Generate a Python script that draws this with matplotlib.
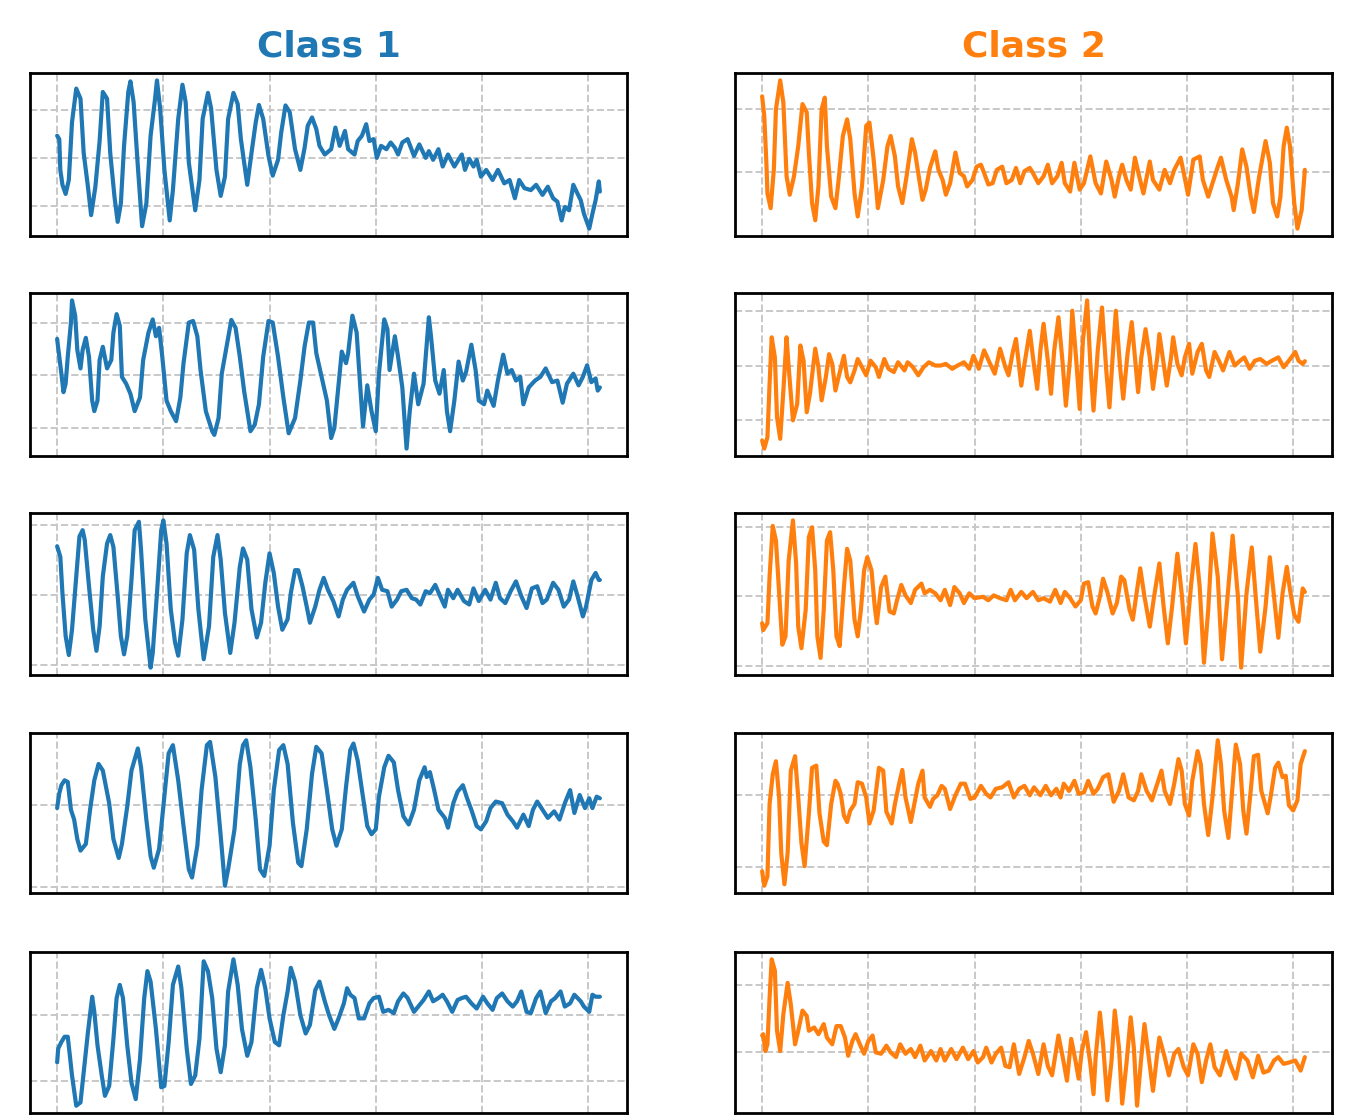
import matplotlib
matplotlib.use("Agg")
import matplotlib.pyplot as plt
from matplotlib.ticker import MultipleLocator

# ---------------- data ----------------
titles = ["Class 1", "Class 2"]
colors = ["#1f77b4", "#ff7f0e"]
x_ticks = [0, 100, 200, 300, 400, 500]

c1_r1_x = [0,2,3,5,8,11,14,18,22,25, 29,32,36,40,43,47,50,54,57,60, 63,67,69,72,76,80,84,88,92,94, 97,101,106,109,114,118,121,124,130,134, 137,142,145,150,154,158,161,166,170,173, 179,183,187,190,194,199,203,208,211,215, 219,224,229,233,236,240,244,247,252,258, 262,266,271,274,280,283,287,291,294,298, 301,305,310,314,318,321,325,330,336,341, 347,350,354,359,363,368,374,381,384,388, 392,395,399,404,410,415,421,426,431,435, 440,446,451,457,462,467,471,475,478,482, 486,489,493,496,501,504,507,510,511]
c1_r1_y = [0.46,0.39,-0.25,-0.56,-0.75,-0.46,0.74,1.44,1.23,0.10, -0.60,-1.19,-0.60,0.35,1.37,1.23,0.10,-0.81,-1.33,-0.95, 0.25,1.37,1.59,1.16,-0.18,-1.42,-0.95,0.46,1.19,1.61, 1.02,-0.25,-1.30,-0.67,0.81,1.52,1.16,-0.10,-1.09,-0.46, 0.81,1.35,1.02,-0.25,-0.79,-0.39,0.81,1.35,1.12,0.39, -0.56,0.10,0.74,1.10,0.81,0.04,-0.37,-0.04,0.53,1.09, 0.95,0.18,-0.25,0.21,0.67,0.84,0.60,0.25,0.07,0.18, 0.63,0.25,0.56,0.18,0.07,0.35,0.46,0.70,0.35,0.39, 0.00,0.25,0.18,0.32,0.21,0.07,0.32,0.39,0.04,0.28, 0.00,0.14,-0.04,0.18,-0.18,0.07,-0.18,0.07,-0.25,-0.02, -0.18,-0.04,-0.39,-0.25,-0.46,-0.25,-0.53,-0.46,-0.84,-0.46, -0.63,-0.67,-0.56,-0.77,-0.60,-0.84,-0.91,-1.30,-1.02,-1.09, -0.56,-0.70,-0.88,-1.16,-1.47,-1.16,-0.88,-0.49,-0.70]

c1_r2_x = [0,1,4,6,8,10,13,14,17,19, 22,24,27,30,33,35,38,40,43,47, 51,53,56,59,61,65,69,73,78,81, 86,90,93,96,99,103,107,112,116,119, 124,128,132,135,140,146,148,152,155,159, 164,168,172,176,182,186,190,194,199,203, 208,213,218,224,229,233,237,241,244,249, 254,258,261,265,268,272,274,278,282,285, 288,292,296,300,303,308,311,313,318,321, 325,329,332,336,340,345,350,352,356,360, 364,367,370,374,378,382,385,390,394,397, 402,405,411,415,420,424,428,432,436,439, 444,450,455,460,466,471,476,480,486,491, 495,499,503,507,509,511]
c1_r2_y = [0.69,0.52,0.03,-0.32,-0.16,0.35,1.00,1.42,1.13,0.48, 0.13,0.48,0.71,0.35,-0.48,-0.68,-0.48,0.29,0.54,0.13, 0.29,0.81,1.16,0.94,-0.03,-0.16,-0.35,-0.68,-0.42,0.29, 0.81,1.06,0.74,0.90,0.35,-0.48,-0.68,-0.87,-0.42,0.23, 1.00,1.03,0.74,0.10,-0.68,-1.06,-1.13,-0.81,0.03,0.48, 1.05,0.90,0.35,-0.29,-1.06,-0.94,-0.55,0.35,1.03,1.00, 0.35,-0.42,-1.10,-0.81,-0.10,0.55,1.00,1.00,0.42,-0.03, -0.48,-1.19,-1.00,-0.16,0.45,0.23,0.42,1.13,0.81,-0.10, -0.97,-0.19,-0.68,-1.06,0.03,1.06,0.87,0.10,0.74,0.35, -0.23,-1.39,-0.68,0.03,-0.55,-0.16,1.10,0.74,-0.10,-0.35, 0.10,-0.68,-1.06,-0.48,0.26,-0.10,0.06,0.58,0.10,-0.48, -0.55,-0.29,-0.58,-0.10,0.39,0.03,0.10,-0.10,-0.03,-0.55, -0.23,-0.10,-0.03,0.13,-0.13,-0.10,-0.52,-0.16,0.03,-0.19, -0.03,0.19,-0.13,-0.06,-0.29,-0.23]

c1_r3_x = [0,3,5,8,11,14,18,21,24,26, 30,34,37,40,43,47,50,53,57,60, 63,66,70,73,77,79,83,88,90,94, 98,100,103,107,111,114,118,122,125,129, 133,138,143,147,151,154,158,163,167,172, 175,179,183,188,192,196,200,204,208,212, 217,220,224,227,231,235,238,243,247,251, 255,260,265,269,273,279,283,289,294,298, 302,306,311,315,320,324,329,334,338,342, 347,351,356,360,365,368,373,377,383,388, 392,397,403,408,413,417,422,427,432,437, 442,447,452,457,461,467,472,477,482,486, 490,495,498,503,507,510,511]
c1_r3_y = [0.69,0.54,0.02,-0.59,-0.86,-0.50,0.26,0.83,0.92,0.78, 0.12,-0.50,-0.80,-0.45,0.26,0.73,0.85,0.68,-0.02,-0.59, -0.85,-0.59,0.21,0.92,1.04,0.64,-0.35,-1.04,-0.83,0.02, 0.92,1.06,0.73,-0.21,-0.68,-0.87,-0.35,0.59,0.85,0.64, -0.21,-0.92,-0.45,0.54,0.85,0.50,-0.26,-0.83,-0.40,0.40, 0.66,0.50,-0.21,-0.61,-0.40,0.17,0.59,0.31,-0.17,-0.50, -0.35,0.02,0.35,0.35,0.12,-0.17,-0.40,-0.17,0.07,0.24, 0.07,-0.09,-0.31,-0.07,0.07,0.17,-0.02,-0.24,-0.07,0.00, 0.24,0.07,0.05,-0.17,-0.07,0.05,0.07,-0.05,-0.07,-0.14, 0.05,0.02,0.14,0.00,-0.17,0.07,-0.05,0.07,-0.09,-0.14, 0.09,-0.09,0.07,-0.07,0.17,-0.05,-0.12,0.05,0.19,-0.02, -0.19,0.09,0.12,-0.12,-0.07,0.17,0.07,-0.17,-0.07,0.19, -0.02,-0.31,-0.17,0.21,0.31,0.21,0.21]

c1_r4_x = [0,2,4,7,10,13,16,19,22,27, 31,35,39,43,49,53,58,61,66,70, 76,79,84,88,91,96,100,105,109,114, 119,124,127,132,136,141,144,149,154,158, 161,167,172,175,178,182,187,191,195,200, 204,209,213,217,222,227,230,235,240,244, 249,254,259,263,268,272,276,279,283,287, 292,296,300,303,308,312,317,321,326,331, 336,341,346,348,351,355,359,365,368,373, 377,382,386,390,395,399,404,408,413,419, 424,429,433,439,444,448,452,457,462,468, 473,478,483,487,492,497,501,504,508,511]
c1_r4_y = [-0.04,0.14,0.24,0.30,0.28,-0.06,-0.18,-0.42,-0.56,-0.48, -0.06,0.30,0.50,0.42,0.02,-0.42,-0.65,-0.48,-0.02,0.42, 0.69,0.46,-0.18,-0.63,-0.77,-0.54,-0.02,0.63,0.73,0.30, -0.26,-0.79,-0.89,-0.50,0.18,0.73,0.77,0.34,-0.38,-0.99, -0.79,-0.30,0.50,0.73,0.79,0.46,-0.18,-0.79,-0.87,-0.50, 0.18,0.67,0.73,0.50,-0.22,-0.71,-0.75,-0.30,0.38,0.71, 0.63,0.18,-0.30,-0.50,-0.30,0.22,0.67,0.75,0.54,0.18, -0.26,-0.36,-0.30,0.10,0.46,0.60,0.52,0.18,-0.14,-0.24, -0.06,0.30,0.46,0.34,0.40,0.18,-0.06,-0.16,-0.28,0.02, 0.16,0.24,0.08,-0.06,-0.26,-0.30,-0.20,-0.04,0.04,0.02, -0.12,-0.20,-0.28,-0.12,-0.26,-0.06,0.04,-0.06,-0.16,-0.08, -0.18,0.02,0.18,-0.10,0.12,-0.04,0.08,-0.04,0.10,0.08]

c1_r5_x = [0,1,4,7,10,12,14,18,22,25, 29,33,35,38,42,45,49,53,56,59, 62,66,70,74,78,82,85,88,93,98, 101,105,109,114,117,122,126,130,134,138, 142,146,150,154,158,161,166,170,174,179, 183,188,192,196,200,205,209,213,217,220, 224,229,234,238,243,247,252,256,261,265, 270,273,276,280,284,289,294,298,303,307, 312,317,321,326,330,336,340,345,350,354, 359,363,367,372,377,381,385,390,395,401, 405,410,414,419,424,429,433,437,442,446, 451,455,460,465,469,474,478,483,487,493, 496,501,504,507,511]
c1_r5_y = [-0.72,-0.51,-0.41,-0.33,-0.33,-0.62,-0.92,-1.38,-1.33,-0.87, -0.26,0.28,0.05,-0.46,-0.92,-1.23,-1.08,-0.36,0.26,0.46, 0.26,-0.46,-1.03,-1.28,-0.67,0.26,0.67,0.51,-0.21,-1.10, -1.08,-0.41,0.46,0.74,0.41,-0.51,-1.05,-0.92,-0.36,0.82, 0.67,0.26,-0.51,-0.87,-0.46,0.36,0.85,0.46,-0.21,-0.62, -0.41,0.41,0.69,0.41,-0.05,-0.41,-0.46,0.00,0.36,0.72, 0.51,0.00,-0.28,-0.15,0.38,0.51,0.21,0.00,-0.21,-0.05, 0.18,0.41,0.31,0.26,-0.05,-0.05,0.18,0.26,0.28,0.05, 0.08,0.03,0.21,0.33,0.26,0.05,0.13,0.23,0.36,0.21, 0.26,0.31,0.21,0.05,0.23,0.26,0.28,0.18,0.10,0.28, 0.18,0.08,0.26,0.33,0.21,0.13,0.21,0.36,0.05,0.03, 0.26,0.36,0.03,0.21,0.26,0.36,0.13,0.18,0.31,0.21, 0.13,0.05,0.31,0.28,0.28]

c2_r1_x = [0,2,4,5,8,11,13,17,20,23, 26,30,34,38,42,44,47,50,53,56, 59,61,65,69,72,76,80,83,87,90, 94,98,101,105,109,114,118,121,125,128, 132,136,141,144,148,151,154,158,163,166, 170,173,177,182,186,190,193,198,202,206, 209,213,217,221,226,230,235,239,243,247, 252,255,260,265,269,273,278,282,285,290, 294,299,303,309,314,319,324,329,332,336, 339,343,347,351,355,359,365,368,374,379, 384,388,394,397,401,406,412,415,420,424, 429,432,437,442,444,448,452,456,460,463, 468,474,478,481,485,488,491,494,497,501, 504,508,511]
c2_r1_y = [1.19,0.88,0.15,-0.33,-0.56,0.04,0.99,1.44,1.09,-0.06, -0.35,-0.06,0.41,1.07,0.94,0.31,-0.48,-0.75,-0.22,0.99, 1.17,0.41,-0.38,-0.56,-0.12,0.57,0.83,0.52,-0.33,-0.69, -0.22,0.73,0.78,0.20,-0.56,-0.12,0.41,0.57,0.25,-0.22, -0.48,-0.06,0.52,0.31,-0.12,-0.43,-0.27,0.07,0.33,0.04, -0.12,-0.35,-0.17,0.31,-0.01,-0.06,-0.22,-0.12,0.09,0.12, -0.01,-0.19,-0.17,0.04,0.09,-0.17,-0.12,0.07,-0.17,0.02, 0.07,-0.01,-0.17,-0.06,0.12,-0.17,-0.06,0.15,-0.17,-0.30, 0.15,-0.27,-0.17,0.25,-0.17,-0.33,0.17,-0.12,-0.38,-0.06, 0.12,-0.12,-0.27,0.23,-0.06,-0.33,0.17,-0.12,-0.27,0.04, -0.17,0.04,0.23,-0.01,-0.35,0.20,0.25,-0.12,-0.38,-0.17, 0.09,0.23,-0.12,-0.38,-0.59,-0.17,0.36,0.09,-0.38,-0.62, -0.06,0.49,0.15,-0.48,-0.69,-0.38,0.41,0.70,0.41,-0.48, -0.88,-0.59,0.04]

c2_r2_x = [0,2,5,7,9,12,14,17,20,23, 25,29,33,36,39,42,45,50,53,56, 60,63,66,69,72,77,80,83,87,90, 94,98,102,107,110,115,119,124,128,134, 137,142,147,152,157,163,168,173,179,184, 190,195,199,204,209,214,219,224,229,232, 236,239,244,247,252,255,259,262,265,269, 272,275,279,283,286,290,292,296,299,302, 306,309,312,316,320,324,327,330,333,337, 340,344,348,351,354,357,361,365,368,372, 374,378,381,385,387,391,395,398,402,405, 410,414,418,421,426,430,434,440,445,450, 454,459,464,469,475,480,486,491,496,502, 505,509,511]
c2_r2_y = [-1.38,-1.53,-1.32,-0.34,0.52,0.15,-0.95,-1.35,-0.46,0.52, -0.03,-1.01,-0.71,0.37,0.09,-0.86,-0.52,0.31,-0.03,-0.64, -0.21,0.21,0.03,-0.46,-0.21,0.18,-0.21,-0.31,-0.09,0.12, -0.03,-0.18,0.09,-0.03,-0.21,0.12,-0.06,-0.12,0.06,-0.09, 0.06,-0.03,-0.18,-0.03,0.06,0.00,0.00,0.03,-0.06,0.00, 0.06,-0.06,0.18,-0.06,0.28,0.06,-0.15,0.31,-0.03,-0.18, 0.25,0.49,-0.37,0.03,0.64,0.15,-0.43,0.28,0.77,0.09, -0.52,0.28,0.89,0.03,-0.74,0.15,1.01,0.03,-0.80,0.46, 1.20,0.03,-0.83,0.28,1.07,-0.09,-0.77,0.15,1.01,-0.03, -0.61,0.21,0.80,0.15,-0.49,0.15,0.67,0.15,-0.43,0.15, 0.58,0.03,-0.37,0.15,0.52,0.03,-0.18,0.15,0.40,-0.15, 0.25,0.40,-0.09,-0.21,0.25,0.09,-0.09,0.25,0.00,0.09, 0.15,-0.06,0.09,0.12,0.03,0.09,0.15,-0.03,0.09,0.25, 0.09,0.03,0.08]

c2_r3_x = [0,1,5,7,10,13,16,19,22,25, 29,32,34,37,41,44,47,50,52,55, 58,61,64,67,70,73,77,80,83,87, 90,93,96,99,103,106,108,112,116,120, 124,127,131,135,140,144,150,153,158,163, 168,172,177,181,186,190,195,200,208,213, 218,224,230,234,238,244,249,255,260,265, 271,276,281,285,290,295,300,303,307,311, 314,318,321,325,330,334,338,341,346,349, 353,356,360,365,369,374,378,382,386,391, 395,399,404,408,412,416,420,424,429,433, 439,443,448,451,456,461,465,469,474,478, 482,486,490,494,497,501,505,509,511]
c2_r3_y = [-0.39,-0.49,-0.39,0.28,1.01,0.80,0.04,-0.70,-0.58,0.51, 1.09,0.47,-0.44,-0.75,-0.20,0.85,0.99,0.37,-0.58,-0.89, -0.20,0.80,0.92,0.37,-0.58,-0.72,0.13,0.68,0.51,-0.34, -0.58,-0.20,0.37,0.56,0.37,-0.15,-0.39,0.13,0.28,-0.22, -0.25,-0.06,0.16,0.01,-0.10,0.09,0.18,0.04,0.09,0.04, -0.06,0.09,-0.13,0.13,0.04,-0.10,0.04,-0.03,-0.01,-0.06, 0.01,-0.03,-0.06,0.09,-0.06,0.06,-0.03,0.06,-0.06,-0.03, -0.08,0.09,-0.10,0.06,-0.03,-0.15,-0.06,0.18,0.20,-0.15, -0.25,-0.01,0.25,0.06,-0.25,-0.10,0.28,0.23,-0.20,-0.34, 0.09,0.40,-0.01,-0.44,-0.01,0.47,-0.15,-0.68,-0.15,0.61, 0.04,-0.68,0.18,0.75,0.13,-0.96,-0.20,0.90,0.28,-0.91, 0.13,0.87,-0.01,-1.03,0.03,0.70,-0.06,-0.80,-0.15,0.56, -0.01,-0.60,0.04,0.42,0.09,-0.27,-0.37,0.11,0.06]

c2_r4_x = [0,2,5,7,10,13,16,18,21,24, 27,31,34,37,40,44,47,51,54,58, 61,65,69,71,74,77,80,83,87,90, 94,98,101,105,110,114,117,122,125,129, 132,135,140,143,147,151,153,158,161,165, 169,172,177,182,187,191,196,200,206,211, 215,220,226,232,237,242,247,252,256,262, 267,272,277,281,284,289,294,298,303,307, 312,316,321,326,331,336,340,345,350,354, 357,362,367,372,376,379,384,388,392,395, 398,402,405,410,413,416,420,424,429,432, 435,439,442,446,450,453,456,460,463,467, 470,476,479,483,486,490,493,496,500,504, 507,509,511]
c2_r4_y = [-1.06,-1.26,-1.13,-0.13,0.28,0.46,-0.04,-0.81,-1.24,-0.81, 0.33,0.53,-0.04,-0.67,-0.99,-0.26,0.37,0.40,-0.26,-0.65, -0.70,-0.13,0.19,0.15,0.01,-0.29,-0.38,-0.22,-0.13,0.17, 0.15,-0.04,-0.40,-0.22,0.37,0.33,-0.24,-0.40,-0.13,0.15, 0.34,-0.04,-0.38,-0.15,0.15,0.33,-0.04,-0.17,-0.06,-0.01, 0.12,0.08,-0.20,-0.01,0.15,0.15,-0.06,-0.04,0.12,0.01, -0.04,0.08,0.10,0.17,-0.04,0.08,0.12,-0.01,0.10,-0.01, 0.12,-0.01,0.08,-0.04,0.15,0.05,0.19,0.01,0.03,0.19, 0.01,0.08,0.24,0.28,-0.10,0.05,0.28,-0.04,-0.08,0.05, 0.28,0.05,-0.08,0.15,0.33,0.05,-0.13,0.15,0.49,0.33, -0.13,-0.29,0.19,0.60,0.42,-0.13,-0.56,-0.04,0.75,0.42, -0.22,-0.60,-0.04,0.69,0.42,-0.22,-0.54,0.05,0.53,0.55, 0.05,-0.26,-0.01,0.37,0.44,0.24,0.26,-0.15,-0.22,-0.08, 0.42,0.51,0.60]

c2_r5_x = [0,1,3,5,7,9,12,14,17,20, 24,27,31,34,38,42,44,49,53,58, 61,66,70,74,78,81,85,88,92,96, 100,104,107,112,117,121,126,130,135,140, 144,149,153,159,164,168,172,178,183,189, 194,199,203,208,211,216,220,225,229,233, 237,242,247,251,255,260,265,269,273,279, 283,287,291,295,298,301,305,309,312,314, 318,321,325,329,332,336,339,343,347,350, 353,357,360,364,368,372,374,379,383,388, 392,397,401,406,410,414,418,422,426,431, 437,440,446,451,457,462,467,472,477,482, 486,491,496,502,507,511]
c2_r5_y = [0.25,0.27,0.02,0.12,0.81,1.38,1.21,0.32,0.02,0.57, 1.03,0.71,0.12,0.32,0.62,0.54,0.32,0.37,0.27,0.42, 0.22,0.12,0.39,0.39,0.22,-0.05,0.17,0.27,0.12,-0.02, 0.17,0.25,0.00,-0.02,0.10,0.00,-0.07,0.12,-0.02,0.05, -0.07,0.10,-0.12,0.02,-0.12,0.05,-0.12,0.05,-0.10,0.07, -0.10,0.02,-0.15,-0.07,0.07,-0.15,-0.02,0.07,-0.20,-0.22, 0.12,-0.32,-0.07,0.17,-0.02,-0.32,0.12,-0.20,-0.34,0.25, -0.07,-0.42,0.20,-0.12,-0.39,0.02,0.30,-0.17,-0.62,-0.07, 0.59,0.12,-0.71,-0.12,0.62,0.07,-0.76,-0.17,0.52,0.07, -0.79,-0.07,0.42,-0.07,-0.57,-0.02,0.22,-0.07,-0.34,-0.02, 0.05,-0.22,-0.34,0.12,-0.02,-0.44,-0.12,0.12,-0.22,-0.34, 0.02,-0.15,-0.39,-0.02,-0.12,-0.37,-0.05,-0.30,-0.27,-0.12, -0.07,-0.17,-0.15,-0.12,-0.27,-0.07]

series = [
    [(c1_r1_x, c1_r1_y), (c1_r2_x, c1_r2_y), (c1_r3_x, c1_r3_y), (c1_r4_x, c1_r4_y), (c1_r5_x, c1_r5_y)],
    [(c2_r1_x, c2_r1_y), (c2_r2_x, c2_r2_y), (c2_r3_x, c2_r3_y), (c2_r4_x, c2_r4_y), (c2_r5_x, c2_r5_y)],
]

# ---------------- layout ----------------
W, H = 1362, 1116
fig = plt.figure(figsize=(W / 100, H / 100), dpi=100)
col_left_px = [30, 735]
col_width_px = 597
row_px = [(73, 236), (293, 456), (513, 675), (733, 893), (952, 1113)]

for c in range(2):
    for r in range(5):
        top, bot = row_px[r]
        ax = fig.add_axes([col_left_px[c] / W, 1 - bot / H, col_width_px / W, (bot - top) / H])
        xs, ys = series[c][r]
        assert len(xs) == len(ys), (c, r, len(xs), len(ys))
        ax.plot(xs, ys, color=colors[c], lw=3.0, solid_joinstyle="round",
                solid_capstyle="round")
        ax.set_xticks(x_ticks)
        ax.yaxis.set_major_locator(MultipleLocator(1))
        ax.grid(True, ls="--", color="#c8c8c8", lw=1.4)
        ax.tick_params(length=0, labelbottom=False, labelleft=False)
        for s in ax.spines.values():
            s.set_color("black")
            s.set_linewidth(2.0)
        if r == 0:
            ax.set_title(titles[c], color=colors[c], fontsize=26, fontweight="bold", pad=12)

fig.savefig("out.png", dpi=100)
